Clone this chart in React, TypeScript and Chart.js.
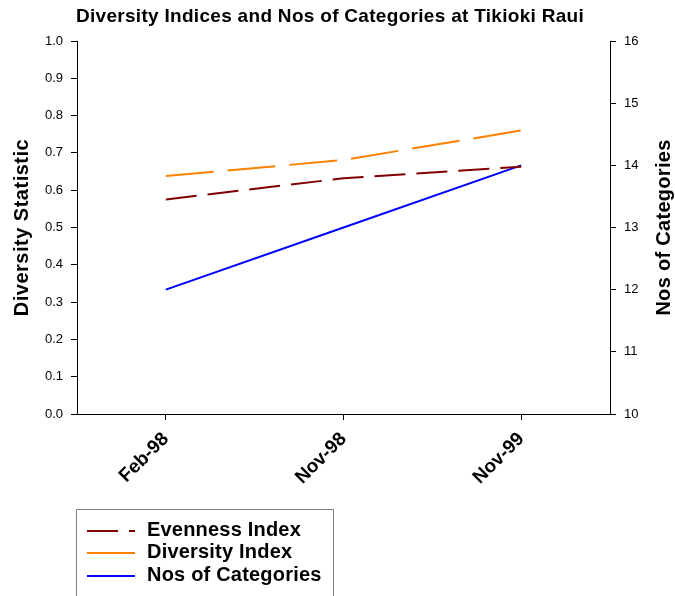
import React, { useEffect, useRef } from "react";
import { Chart, registerables } from "chart.js";

Chart.register(...registerables);

const categories = ["Feb-98", "Nov-98", "Nov-99"];
const evennessIndex = [0.575, 0.632, 0.663];
const diversityIndex = [0.638, 0.681, 0.76];
const nosOfCategories = [12, 13, 14];

const titleText = "Diversity Indices and Nos of Categories at Tikioki Raui";
const leftAxisTitle = "Diversity Statistic";
const rightAxisTitle = "Nos of Categories";
const seriesNames = ["Evenness Index", "Diversity Index", "Nos of Categories"];

const FONT = "'Liberation Sans', Arial, sans-serif";

const textPlugin = {
  id: "customText",
  afterDraw(chart: any) {
    const ctx = chart.ctx as any;
    const area = chart.chartArea;
    ctx.save();
    ctx.fillStyle = "#000";
    // Title
    ctx.font = `bold 19px ${FONT}`;
    ctx.letterSpacing = "0.3px";
    ctx.textAlign = "center";
    ctx.textBaseline = "middle";
    ctx.fillText(titleText, 330, 17);
    // Axis titles
    const midY = (area.top + area.bottom) / 2;
    ctx.font = `bold 20px ${FONT}`;
    ctx.letterSpacing = "0.5px";
    ctx.save();
    ctx.translate(22, midY);
    ctx.rotate(-Math.PI / 2);
    ctx.fillText(leftAxisTitle, 0, 0);
    ctx.restore();
    ctx.letterSpacing = "0.3px";
    ctx.save();
    ctx.translate(664, midY);
    ctx.rotate(-Math.PI / 2);
    ctx.fillText(rightAxisTitle, 0, 0);
    ctx.restore();
    ctx.letterSpacing = "0px";
    // Legend box
    ctx.strokeStyle = "#808080";
    ctx.lineWidth = 1;
    ctx.strokeRect(76.5, 509.5, 257, 100);
    const rowsY = [531, 553, 576];
    chart.data.datasets.forEach((ds: any, i: number) => {
      ctx.save();
      ctx.strokeStyle = ds.borderColor;
      ctx.lineWidth = 2;
      ctx.setLineDash(ds.borderDash || []);
      ctx.beginPath();
      ctx.moveTo(87, rowsY[i]);
      ctx.lineTo(135, rowsY[i]);
      ctx.stroke();
      ctx.restore();
      ctx.font = `bold 20px ${FONT}`;
      ctx.letterSpacing = "0.2px";
      ctx.textAlign = "left";
      ctx.textBaseline = "middle";
      ctx.fillStyle = "#000";
      ctx.fillText(ds.label, 147, rowsY[i] - 1);
    });
    ctx.restore();
  },
};

export default function App() {
  const ref = useRef<HTMLCanvasElement>(null);
  useEffect(() => {
    document.body.style.margin = "0";
    const canvas = ref.current;
    if (!canvas) return;
    const chart = new Chart(canvas, {
      type: "line",
      data: {
        labels: categories,
        datasets: [
          {
            label: seriesNames[0],
            data: evennessIndex,
            borderColor: "#800000",
            backgroundColor: "#800000",
            borderWidth: 2,
            borderDash: [31, 11],
            pointRadius: 0,
            yAxisID: "y",
          },
          {
            label: seriesNames[1],
            data: diversityIndex,
            borderColor: "#FF8000",
            backgroundColor: "#FF8000",
            borderWidth: 2,
            borderDash: [48, 14],
            pointRadius: 0,
            yAxisID: "y",
          },
          {
            label: seriesNames[2],
            data: nosOfCategories,
            borderColor: "#0000FF",
            backgroundColor: "#0000FF",
            borderWidth: 2,
            pointRadius: 0,
            yAxisID: "y1",
          },
        ],
      },
      options: {
        animation: false,
        responsive: false,
        layout: { padding: { top: 41, left: 0, right: 0, bottom: 0 } },
        plugins: {
          legend: { display: false },
          title: { display: false },
          tooltip: { enabled: false },
        },
        scales: {
          x: {
            type: "category",
            offset: true,
            grid: {
              drawOnChartArea: false,
              drawTicks: true,
              tickLength: 6,
              color: "#000",
            },
            border: { color: "#000", width: 1 },
            ticks: {
              color: "#000",
              font: { family: FONT, size: 19, weight: "bold" },
              maxRotation: 45,
              minRotation: 45,
              autoSkip: false,
              padding: 8,
            },
            afterFit: (scale: any) => {
              scale.height = 182;
            },
          },
          y: {
            position: "left",
            min: 0,
            max: 1,
            grid: {
              drawOnChartArea: false,
              tickLength: 6,
              color: "#000",
            },
            border: { color: "#000", width: 1 },
            ticks: {
              stepSize: 0.1,
              color: "#000",
              padding: 8,
              font: { family: FONT, size: 13 },
              callback: (v: any) => Number(v).toFixed(1),
            },
            afterFit: (scale: any) => {
              scale.width = 77;
            },
          },
          y1: {
            position: "right",
            min: 10,
            max: 16,
            grid: {
              drawOnChartArea: false,
              tickLength: 6,
              color: "#000",
            },
            border: { color: "#000", width: 1 },
            ticks: {
              stepSize: 1,
              color: "#000",
              padding: 8,
              font: { family: FONT, size: 13 },
            },
            afterFit: (scale: any) => {
              scale.width = 65;
            },
          },
        },
      },
      plugins: [textPlugin],
    });
    return () => chart.destroy();
  }, []);
  return (
    <div style={{ width: 675, height: 596, background: "#fff" }}>
      <canvas ref={ref} width={675} height={596} style={{ display: "block" }} />
    </div>
  );
}
